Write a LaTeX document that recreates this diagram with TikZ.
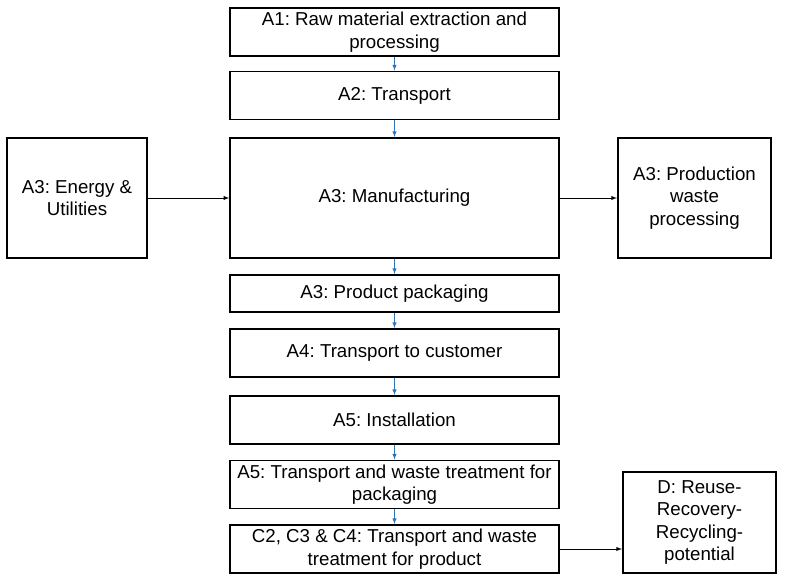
\documentclass[tikz,border=0pt]{standalone}
\usepackage{fontspec}
\setmainfont{Liberation Sans}
\usepackage{xcolor}
\usepackage{tikz}
\usetikzlibrary{calc, positioning}
\definecolor{flowblue}{RGB}{46,117,182}
\frenchspacing

\begin{document}
\begin{tikzpicture}[>=latex, x=0.025cm, y=-0.025cm,
    box/.style={draw, line width=1.3pt, align=center, inner sep=2pt,
        font=\fontsize{13.3}{16}\selectfont},
    stage/.style={box, minimum width=8.22cm, minimum height=1.2cm},
    side/.style={box, minimum height=3cm},
    down/.style={->, flowblue, thin},
    feed/.style={->, thin}]
    \useasboundingbox (0,0) rectangle (791,586);

    % 1. Main life cycle column
    \node[stage] (a1) at (394.5,32) {A1: Raw material extraction and\\processing};
    \node[stage] (a2) at (394.5,95.5) {A2: Transport};
    \node[stage, minimum height=3cm] (manuf) at (394.5,198) {A3: Manufacturing};
    \node[stage, minimum height=0.93cm] (pack) at (394.5,293.5) {A3: Product packaging};
    \node[stage] (transp) at (394.5,353) {A4: Transport to customer};
    \node[stage] (install) at (394.5,420) {A5: Installation};
    \node[stage] (pkgwaste) at (394.5,484.5) {A5: Transport and waste treatment for\\packaging};
    \node[stage] (eol) at (394.5,549) {C2, C3 \& C4: Transport and waste\\treatment for product};

    % 2. Side boxes
    \node[side, minimum width=3.5cm] (energy) at (77,198) {A3: Energy \&\\Utilities};
    \node[side, minimum width=3.83cm] (waste) at (694.5,198) {A3: Production\\waste\\processing};
    \node[box, minimum width=3.83cm, minimum height=2.53cm] (reuse) at (699.5,522.5)
        {D: Reuse-\\Recovery-\\Recycling-\\potential};

    % 3. Arrows down the column
    \draw[down] (a1) -- (a2);
    \draw[down] (a2) -- (manuf);
    \draw[down] (manuf) -- (pack);
    \draw[down] (pack) -- (transp);
    \draw[down] (transp) -- (install);
    \draw[down] (install) -- (pkgwaste);
    \draw[down] (pkgwaste) -- (eol);

    % 4. Side arrows
    \draw[feed] (energy) -- (manuf);
    \draw[feed] (manuf) -- (waste);
    \draw[feed] (eol.east) -- (eol.east -| reuse.west);
\end{tikzpicture}
\end{document}
